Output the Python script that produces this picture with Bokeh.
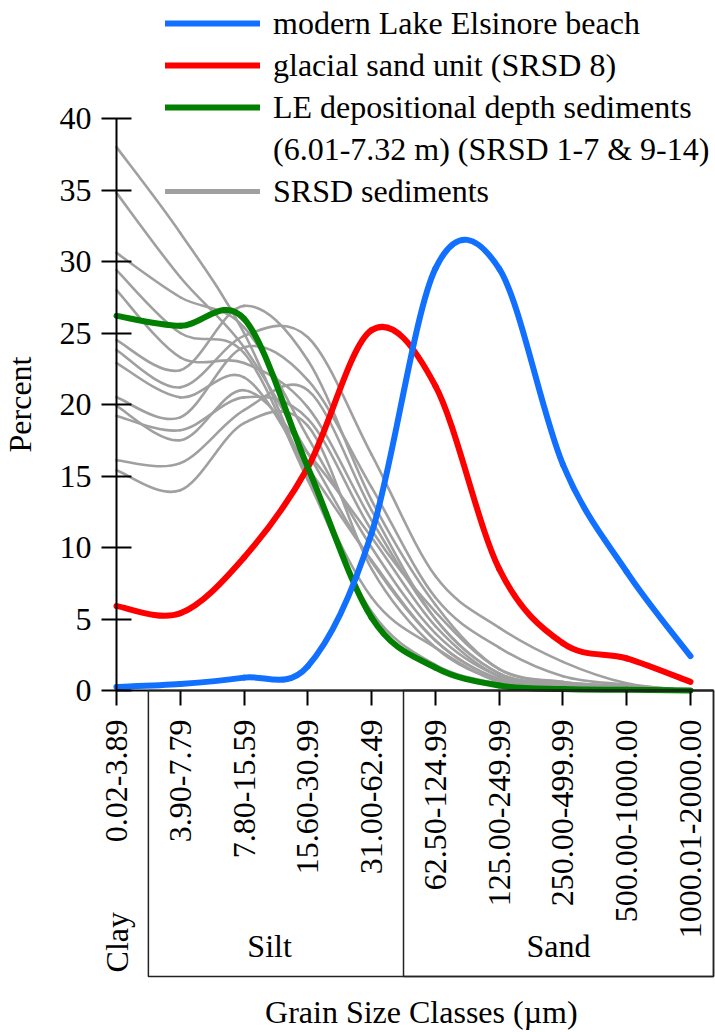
import math
from bokeh.plotting import figure
from bokeh.models import (Range1d, FixedTicker, Legend, LegendItem, Label,
                          BoxAnnotation, ColumnDataSource)
from bokeh.embed import file_html
from bokeh.resources import INLINE

# ---------------- data ----------------
size_classes = ["0.02-3.89", "3.90-7.79", "7.80-15.59", "15.60-30.99", "31.00-62.49",
                "62.50-124.99", "125.00-249.99", "250.00-499.99", "500.00-1000.00",
                "1000.01-2000.00"]
texture_groups = ["Clay", "Silt", "Sand"]
y_ticks = [0, 5, 10, 15, 20, 25, 30, 35, 40]

beach = [0.25, 0.45, 0.9, 1.7, 11.0, 29.5, 29.5, 15.8, 8.3, 2.4]
glacial = [5.9, 5.4, 9.3, 15.6, 25.2, 21.3, 8.5, 3.3, 2.25, 0.6]
le_depth = [26.2, 25.5, 26.0, 15.6, 5.1, 1.6, 0.35, 0.1, 0.05, 0.0]

srsd_1 = [38.0, 32.0, 25.0, 15.0, 6.5, 3.0, 0.6, 0.3, 0.2, 0.0]
srsd_2 = [34.8, 28.9, 24.0, 16.6, 9.0, 3.5, 0.8, 0.4, 0.2, 0.0]
srsd_3 = [30.6, 27.5, 25.4, 17.7, 10.0, 4.0, 1.0, 0.4, 0.2, 0.0]
srsd_4 = [29.4, 25.0, 23.6, 14.7, 5.5, 1.8, 0.5, 0.3, 0.1, 0.0]
srsd_5 = [28.0, 23.3, 22.9, 19.8, 11.9, 5.0, 1.2, 0.5, 0.2, 0.0]
srsd_6 = [24.5, 22.4, 26.9, 23.1, 13.3, 6.0, 1.5, 0.6, 0.3, 0.0]
srsd_7 = [23.8, 21.2, 24.8, 24.7, 16.5, 8.0, 4.4, 2.0, 0.5, 0.0]
srsd_9 = [22.9, 20.5, 21.9, 15.6, 9.1, 3.5, 0.8, 0.4, 0.2, 0.0]
srsd_10 = [20.5, 19.1, 24.0, 21.7, 14.2, 6.5, 3.0, 1.0, 0.4, 0.0]
srsd_11 = [19.9, 17.5, 21.0, 16.6, 10.7, 4.5, 1.0, 0.5, 0.2, 0.0]
srsd_12 = [19.2, 18.2, 20.5, 19.0, 11.2, 5.5, 1.5, 0.6, 0.3, 0.0]
srsd_13 = [16.1, 15.9, 19.6, 21.0, 12.6, 5.0, 1.2, 0.5, 0.2, 0.0]
srsd_14 = [15.4, 14.0, 18.7, 18.5, 8.5, 3.0, 0.7, 0.3, 0.2, 0.0]
srsd_series = [srsd_1, srsd_2, srsd_3, srsd_4, srsd_5, srsd_6, srsd_7,
               srsd_9, srsd_10, srsd_11, srsd_12, srsd_13, srsd_14]

# ---------------- styling / layout ----------------
FONT = "Liberation Serif"
FS = "32px"
W, H = 715, 1032
PX_X0, PX_X9 = 116, 690               # first / last category centre in px
PX_Y0, PX_Y40 = 690, 118              # y=0 and y=40 in px
PX_AXIS_END = 713                     # right end of x axis / class boxes
px_per_x = (PX_X9 - PX_X0) / 9.0
px_per_y = (PX_Y0 - PX_Y40) / 40.0

x_range = Range1d(-PX_X0 / px_per_x, (W - PX_X0) / px_per_x)
y_range = Range1d(-(H - PX_Y0) / px_per_y, 40 + PX_Y40 / px_per_y)
x_axis_end = (PX_AXIS_END - PX_X0) / px_per_x

p = figure(width=W, height=H, x_range=x_range, y_range=y_range,
           output_backend="svg", toolbar_location=None,
           min_border_left=0, min_border_right=0,
           min_border_top=0, min_border_bottom=0)
p.outline_line_color = None
p.xgrid.visible = False
p.ygrid.visible = False
p.background_fill_color = "white"
p.border_fill_color = "white"


def smooth_source(ys):
    """Excel-like smoothed line: one cubic Bezier per pair of neighbouring points."""
    xs = list(range(len(ys)))
    n = len(ys)
    d = dict(x0=[], y0=[], x1=[], y1=[], cx0=[], cy0=[], cx1=[], cy1=[])
    for i in range(n - 1):
        a, b = max(i - 1, 0), min(i + 2, n - 1)
        d["x0"].append(xs[i]); d["y0"].append(ys[i])
        d["x1"].append(xs[i + 1]); d["y1"].append(ys[i + 1])
        d["cx0"].append(xs[i] + (xs[i + 1] - xs[a]) / 6.0)
        d["cy0"].append(ys[i] + (ys[i + 1] - ys[a]) / 6.0)
        d["cx1"].append(xs[i + 1] - (xs[b] - xs[i]) / 6.0)
        d["cy1"].append(ys[i + 1] - (ys[b] - ys[i]) / 6.0)
    return ColumnDataSource(d)


def curve(ys, color, width):
    return p.bezier(x0="x0", y0="y0", x1="x1", y1="y1", cx0="cx0", cy0="cy0",
                    cx1="cx1", cy1="cy1", source=smooth_source(ys),
                    line_color=color, line_width=width, line_cap="round")


GRAY, RED, GREEN, BLUE = "#A0A0A0", "#FF0000", "#007F00", "#1170FF"
gray_renderers = [curve(s, GRAY, 2.6) for s in srsd_series]
r_red = curve(glacial, RED, 6)
r_green = curve(le_depth, GREEN, 6)
r_blue = curve(beach, BLUE, 6)
# hidden duplicate of one grey series, only used for a thicker legend key
r_gray_key = curve(srsd_1, GRAY, 5)
r_gray_key.visible = False

# ---------------- axes (both pinned at the data origin) ----------------
yax = p.yaxis[0]
yax.fixed_location = 0
yax.ticker = FixedTicker(ticks=y_ticks)
yax.bounds = (0, 40)
yax.axis_line_width = 2
yax.major_tick_line_width = 2
yax.major_tick_in = 15
yax.major_tick_out = 15
yax.minor_tick_line_color = None
yax.major_label_standoff = 10
yax.major_label_text_font = FONT
yax.major_label_text_font_size = FS
yax.major_label_text_color = "black"
yax.axis_label = "Percent"
yax.axis_label_text_font = FONT
yax.axis_label_text_font_size = FS
yax.axis_label_text_font_style = "normal"
yax.axis_label_text_color = "black"
yax.axis_label_standoff = 19

xax = p.xaxis[0]
xax.fixed_location = 0
xax.bounds = (0, x_axis_end)
xax.ticker = FixedTicker(ticks=list(range(len(size_classes))))
xax.major_label_overrides = {i: s for i, s in enumerate(size_classes)}
xax.major_label_orientation = math.pi / 2
xax.axis_line_width = 2
xax.major_tick_line_width = 2
xax.major_tick_in = 0
xax.major_tick_out = 15
xax.minor_tick_line_color = None
xax.major_label_standoff = 14
xax.major_label_text_font = FONT
xax.major_label_text_font_size = FS
xax.major_label_text_color = "black"

# texture class boxes under the axis
BOX_BOTTOM = -20.0
for left in (0.5, 4.5):
    p.add_layout(BoxAnnotation(left=left, right=x_axis_end, top=0, bottom=BOX_BOTTOM,
                               fill_color=None, fill_alpha=0, line_color="#222222",
                               line_alpha=1.0, line_width=1.5))

text_kw = dict(text_font=FONT, text_font_size=FS, text_color="black",
               text_align="center", text_baseline="middle")
p.add_layout(Label(x=0, y=-17.6, text=texture_groups[0], angle=math.pi / 2, **text_kw))
p.add_layout(Label(x=2.4, y=-17.9, text=texture_groups[1], **text_kw))
p.add_layout(Label(x=(4.5 + x_axis_end) / 2, y=-17.9, text=texture_groups[2], **text_kw))
p.add_layout(Label(x=4.78, y=-22.5, text="Grain Size Classes (\u00b5m)", **text_kw))

# ---------------- legend ----------------
ROW = 40
legend = Legend(items=[
    LegendItem(label="modern Lake Elsinore beach", renderers=[r_blue]),
    LegendItem(label="glacial sand unit (SRSD 8)", renderers=[r_red]),
    LegendItem(label="LE depositional depth sediments", renderers=[r_green]),
    LegendItem(label="(6.01-7.32 m) (SRSD 1-7 & 9-14)", renderers=[]),
    LegendItem(label="SRSD sediments", renderers=[r_gray_key]),
], location=(165, H - 3 - (5 * ROW + 4 * 2)))
legend.padding = 0
legend.spacing = 2
legend.margin = 0
legend.glyph_width = 95
legend.glyph_height = ROW
legend.label_height = ROW
legend.label_standoff = 13
legend.label_text_font = FONT
legend.label_text_font_size = FS
legend.label_text_color = "black"
legend.border_line_color = None
legend.background_fill_alpha = 0
p.add_layout(legend, "center")

open("out.html", "w").write(file_html(p, INLINE))
